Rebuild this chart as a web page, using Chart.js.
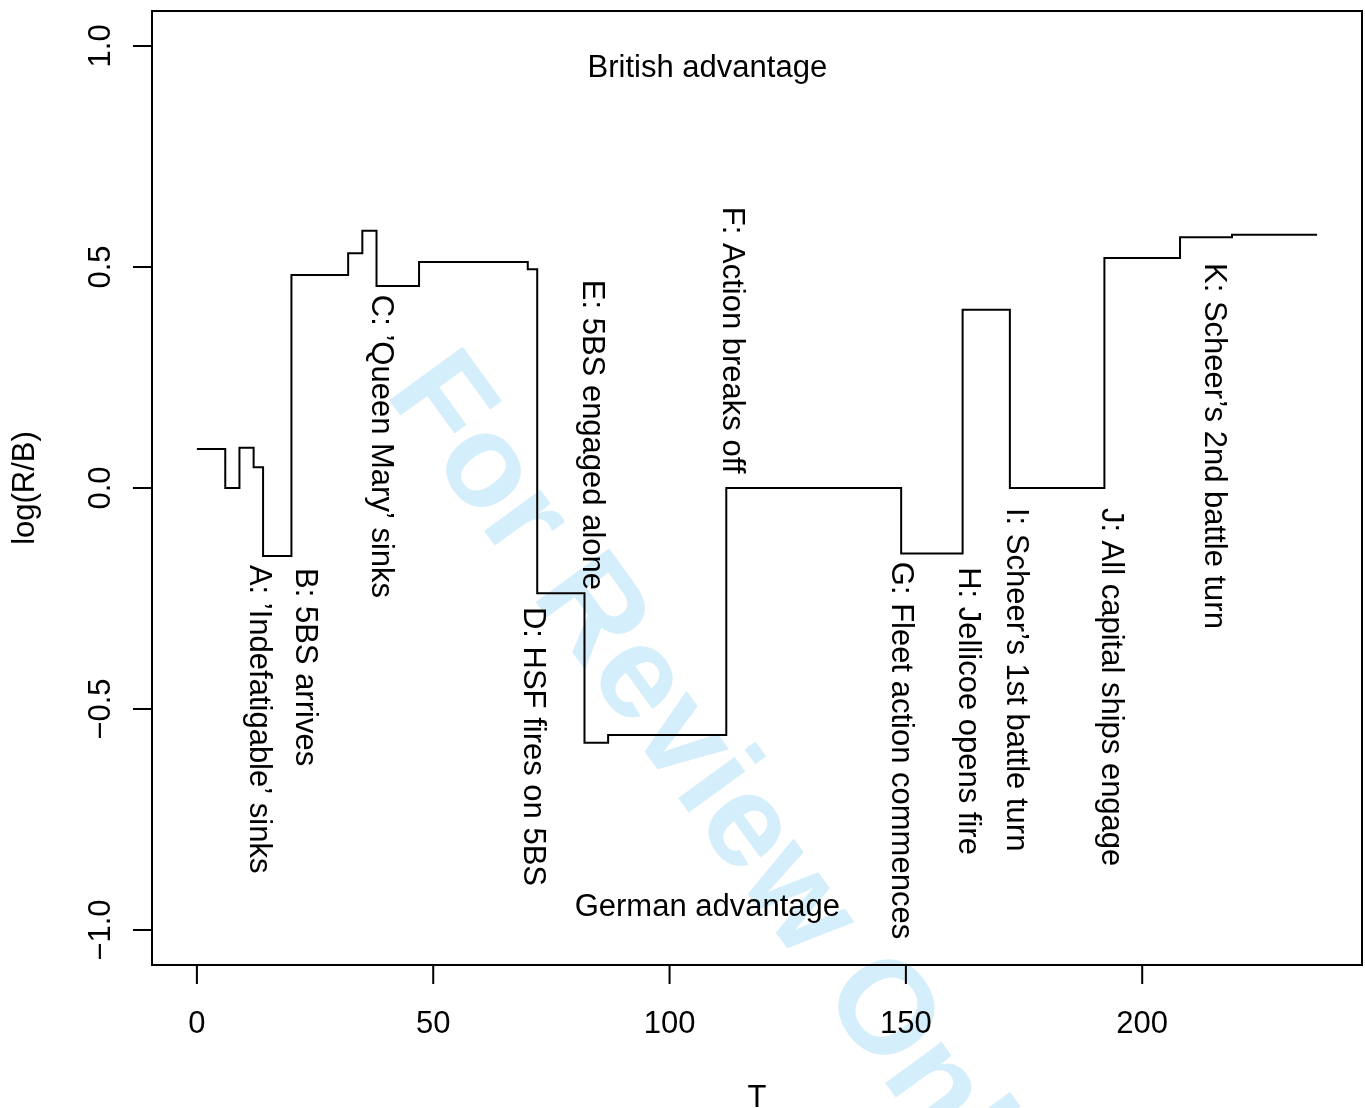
<!DOCTYPE html>
<html>
<head>
<meta charset="utf-8">
<script src="https://cdn.jsdelivr.net/npm/chart.js@4.4.1/dist/chart.umd.min.js"></script>
<style>
  html, body { margin: 0; padding: 0; background: #fff; }
  canvas { display: block; }
</style>
</head>
<body>
<canvas id="myChart" width="1365" height="1108"></canvas>
<script>
/* globals Chart:false */

// step points: value y holds from time t until the next point
var times  = [0, 6, 9, 12, 14, 20, 32, 35, 38, 47, 70, 72, 82, 87, 112, 149, 162, 172, 192, 208, 219, 237];
var logRB  = [0.088, 0, 0.091, 0.047, -0.154, 0.482, 0.531, 0.582, 0.457, 0.511, 0.495, -0.238, -0.576, -0.559, 0, -0.148, 0.403, 0, 0.52, 0.567, 0.573, 0.573];

var xTicks = [0, 50, 100, 150, 200];
var yTicks = [-1.0, -0.5, 0.0, 0.5, 1.0];
var yTickLabels = ['\u22121.0', '\u22120.5', '0.0', '0.5', '1.0'];

var eventLabels = [
  'A: \u2019Indefatigable\u2019 sinks',
  'B: 5BS arrives',
  'C: \u2019Queen Mary\u2019 sinks',
  'D: HSF fires on 5BS',
  'E: 5BS engaged alone',
  'F: Action breaks off',
  'G: Fleet action commences',
  'H: Jellicoe opens fire',
  'I: Scheer\u2019s 1st battle turn',
  'J: All capital ships engage',
  'K: Scheer\u2019s 2nd battle turn'
];
var eventX = [13.1, 22.8, 38.9, 71.1, 83.6, 113.2, 148.9, 163.1, 173.1, 193.4, 215.1];
var eventY = [-0.174, -0.181, 0.437, -0.269, 0.471, 0.636, -0.167, -0.179, -0.045, -0.045, 0.509];

var FONT = '"Liberation Sans", Arial, Helvetica, sans-serif';

(function () {
  'use strict'

  var points = times.map(function (t, i) { return { x: t, y: logRB[i] }; });

  var watermark = {
    id: 'watermark',
    beforeDatasetsDraw: function (chart) {
      var ctx = chart.ctx;
      ctx.save();
      ctx.translate(384, 393);
      ctx.rotate(54 * Math.PI / 180);
      ctx.font = 'bold 132px ' + FONT;
      ctx.fillStyle = '#d4eefb';
      ctx.textAlign = 'left';
      ctx.textBaseline = 'alphabetic';
      ctx.fillText('For Review Only', 0, 0);
      ctx.restore();
    }
  };

  var axesAndText = {
    id: 'axesAndText',
    afterDraw: function (chart) {
      var ctx = chart.ctx;
      var a = chart.chartArea;
      var xs = chart.scales.x;
      var ys = chart.scales.y;
      ctx.save();
      ctx.strokeStyle = '#000';
      ctx.fillStyle = '#000';
      ctx.lineWidth = 2;
      ctx.strokeRect(a.left, a.top, a.right - a.left, a.bottom - a.top);

      ctx.font = '31px ' + FONT;
      // x axis
      ctx.beginPath();
      ctx.moveTo(xs.getPixelForValue(xTicks[0]), a.bottom);
      ctx.lineTo(xs.getPixelForValue(xTicks[xTicks.length - 1]), a.bottom);
      xTicks.forEach(function (v) {
        var px = xs.getPixelForValue(v);
        ctx.moveTo(px, a.bottom);
        ctx.lineTo(px, a.bottom + 19);
      });
      ctx.stroke();
      ctx.textAlign = 'center';
      ctx.textBaseline = 'alphabetic';
      xTicks.forEach(function (v) {
        ctx.fillText(String(v), xs.getPixelForValue(v), a.bottom + 68);
      });
      ctx.fillText('T', (a.left + a.right) / 2, a.bottom + 142);

      // y axis
      ctx.beginPath();
      ctx.moveTo(a.left, ys.getPixelForValue(yTicks[0]));
      ctx.lineTo(a.left, ys.getPixelForValue(yTicks[yTicks.length - 1]));
      yTicks.forEach(function (v) {
        var py = ys.getPixelForValue(v);
        ctx.moveTo(a.left, py);
        ctx.lineTo(a.left - 19, py);
      });
      ctx.stroke();
      yTicks.forEach(function (v, i) {
        ctx.save();
        ctx.translate(a.left - 42, ys.getPixelForValue(v));
        ctx.rotate(-Math.PI / 2);
        ctx.fillText(yTickLabels[i], 0, 0);
        ctx.restore();
      });
      ctx.save();
      ctx.translate(34, (a.top + a.bottom) / 2);
      ctx.rotate(-Math.PI / 2);
      ctx.fillText('log(R/B)', 0, 0);
      ctx.restore();

      // region notes
      ctx.fillText('British advantage', xs.getPixelForValue(108), ys.getPixelForValue(0.93));
      ctx.fillText('German advantage', xs.getPixelForValue(108), ys.getPixelForValue(-0.968));

      // event labels, reading downwards
      ctx.textAlign = 'left';
      ctx.textBaseline = 'middle';
      eventLabels.forEach(function (txt, i) {
        ctx.save();
        ctx.translate(xs.getPixelForValue(eventX[i]), ys.getPixelForValue(eventY[i]));
        ctx.rotate(Math.PI / 2);
        ctx.fillText(txt, 0, 0);
        ctx.restore();
      });
      ctx.restore();
    }
  };

  var ctx = document.getElementById('myChart').getContext('2d');
  // eslint-disable-next-line no-unused-vars
  var myChart = new Chart(ctx, {
    type: 'line',
    data: {
      datasets: [{
        data: points,
        borderColor: '#000',
        borderWidth: 2,
        pointRadius: 0,
        stepped: 'before',
        fill: false
      }]
    },
    options: {
      responsive: false,
      animation: false,
      devicePixelRatio: 1,
      layout: { padding: { left: 152, right: 3, top: 11, bottom: 143 } },
      plugins: { legend: { display: false }, tooltip: { enabled: false } },
      scales: {
        x: { type: 'linear', min: -9.5, max: 246.5, display: false },
        y: { type: 'linear', min: -1.079, max: 1.079, display: false }
      }
    },
    plugins: [watermark, axesAndText]
  })
}())
</script>
</body>
</html>
